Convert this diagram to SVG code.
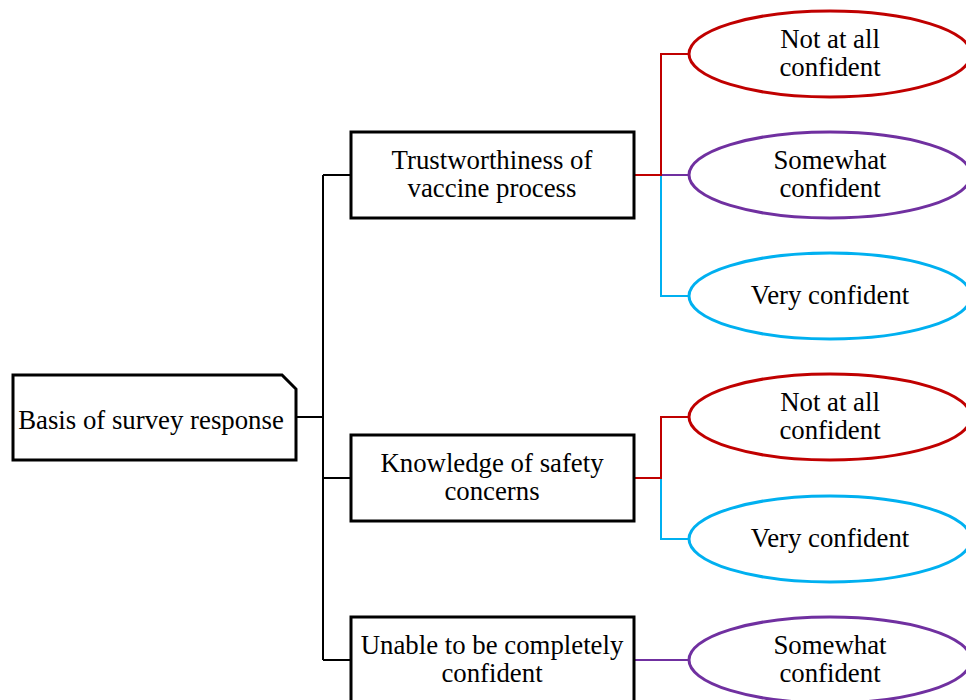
<svg xmlns="http://www.w3.org/2000/svg" width="966" height="700" viewBox="0 0 966 700">
  <style>
    .box { fill: #ffffff; stroke: #000000; stroke-width: 3; }
    .oval { fill: #ffffff; stroke-width: 3; }
    .red { stroke: #C00000; }
    .purple { stroke: #7030A0; }
    .cyan { stroke: #00B0F0; }
    .link { fill: none; stroke-width: 2; }
    .trunk { fill: none; stroke: #000000; stroke-width: 2; }
    text { font-family: "Liberation Serif", "Times New Roman", serif; font-size: 26.8px; fill: #000000; text-anchor: middle; }
  </style>

  <!-- connectors -->
  <g id="connectors">
    <path class="trunk" d="M296 417 H323 M323 175 V660 M323 175 H351 M323 478 H351 M323 660 H351"/>
    <!-- branch 1 -->
    <path class="link cyan" d="M661 175 V296 H689"/>
    <path class="link purple" d="M661 175 H689"/>
    <path class="link red" d="M634 175 H661 V54 H689"/>
    <!-- branch 2 -->
    <path class="link cyan" d="M661 478 V539 H689"/>
    <path class="link red" d="M634 478 H661 V417 H689"/>
    <!-- branch 3 -->
    <path class="link purple" d="M634 660 H689"/>
  </g>

  <g id="root">
    <path class="box" d="M13 375 H282 L296 389 V460 H13 Z"/>
    <text x="151" y="429">Basis of survey response</text>
  </g>

  <g id="trust">
    <rect class="box" x="351" y="132" width="283" height="86"/>
    <text x="492" y="169">Trustworthiness of</text>
    <text x="492" y="197">vaccine process</text>
  </g>

  <g id="knowledge">
    <rect class="box" x="351" y="435" width="283" height="86"/>
    <text x="492" y="472">Knowledge of safety</text>
    <text x="492" y="500">concerns</text>
  </g>

  <g id="unable">
    <rect class="box" x="351" y="617" width="283" height="86"/>
    <text x="492" y="654">Unable to be completely</text>
    <text x="492" y="682">confident</text>
  </g>

  <g id="trust-not">
    <ellipse class="oval red" cx="830" cy="54" rx="141" ry="43"/>
    <text x="830" y="48">Not at all</text>
    <text x="830" y="76">confident</text>
  </g>

  <g id="trust-somewhat">
    <ellipse class="oval purple" cx="830" cy="175" rx="141" ry="43"/>
    <text x="830" y="169">Somewhat</text>
    <text x="830" y="197">confident</text>
  </g>

  <g id="trust-very">
    <ellipse class="oval cyan" cx="830" cy="296" rx="141" ry="43"/>
    <text x="830" y="304">Very confident</text>
  </g>

  <g id="knowledge-not">
    <ellipse class="oval red" cx="830" cy="417" rx="141" ry="43"/>
    <text x="830" y="411">Not at all</text>
    <text x="830" y="439">confident</text>
  </g>

  <g id="knowledge-very">
    <ellipse class="oval cyan" cx="830" cy="539" rx="141" ry="43"/>
    <text x="830" y="547">Very confident</text>
  </g>

  <g id="unable-somewhat">
    <ellipse class="oval purple" cx="830" cy="660" rx="141" ry="43"/>
    <text x="830" y="654">Somewhat</text>
    <text x="830" y="682">confident</text>
  </g>
</svg>
